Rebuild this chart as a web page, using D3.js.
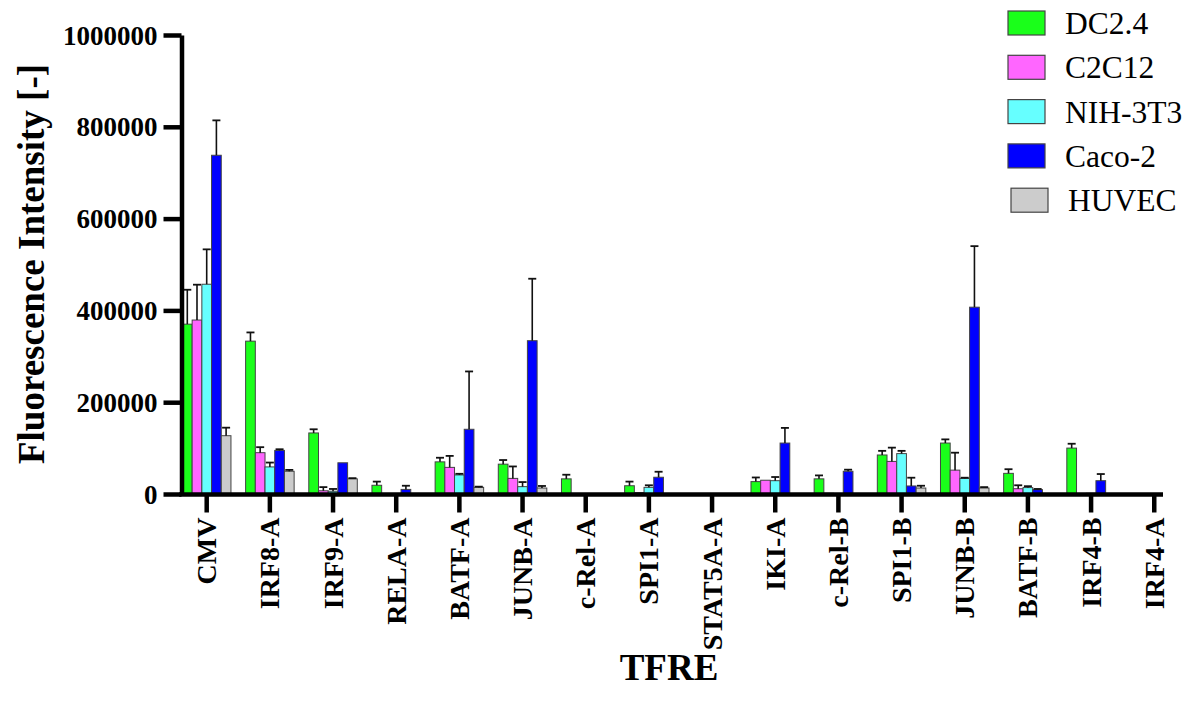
<!DOCTYPE html>
<html>
<head>
<meta charset="utf-8">
<script src="https://cdn.jsdelivr.net/npm/d3@7"></script>
<style>
  html, body { margin: 0; padding: 0; background: #fff; }
  svg { display: block; }
</style>
</head>
<body>
<svg id="chart" width="1197" height="706"></svg>
<script>
const categories = ["CMV","IRF8-A","IRF9-A","RELA-A","BATF-A","JUNB-A","c-Rel-A","SPI1-A","STAT5A-A","IKI-A","c-Rel-B","SPI1-B","JUNB-B","BATF-B","IRF4-B","IRF4-A"];
const seriesNames = ["DC2.4","C2C12","NIH-3T3","Caco-2","HUVEC"];
const seriesColors = ["#1aff1a","#ff66ff","#66ffff","#0000ff","#cccccc"];

const dc24     = [370000, 333000, 133000, 19000, 70000, 65000, 33000, 18000, 0, 27000, 33000, 85000, 111000, 45000, 100000, 0];
const dc24Err  = [75000, 19000, 8000, 8000, 9000, 9000, 9000, 9000, 0, 9000, 7500, 9000, 8000, 9000, 9500, 0];
const c2c12    = [379000, 90000, 7000, 1000, 58000, 34000, 0, 3000, 0, 30000, 1500, 71000, 52000, 11500, 0, 0];
const c2c12Err = [77000, 12000, 8000, 0, 25000, 26000, 0, 0, 0, 0, 0, 30000, 38000, 7500, 0, 0];
const nih3t3   = [457000, 59000, 6000, 0, 41500, 16000, 0, 14500, 1000, 29000, 0, 88000, 34000, 14000, 1500, 0];
const nih3t3Err= [76000, 9500, 5000, 0, 2500, 10000, 0, 4500, 0, 8000, 0, 6000, 1500, 3000, 0, 0];
const caco2    = [738000, 95000, 68000, 10000, 141000, 334000, 0, 36500, 0, 111000, 49500, 17500, 407000, 9500, 29000, 0];
const caco2Err = [76000, 2500, 0, 8000, 126000, 135000, 0, 12000, 0, 33000, 3500, 18000, 133000, 1500, 14500, 0];
const huvec    = [127000, 49500, 33000, 0, 14500, 13000, 0, 0, 0, 0, 0, 13000, 13000, 1000, 0, 0];
const huvecErr = [17500, 3000, 1500, 0, 1500, 4500, 0, 0, 0, 0, 0, 5000, 2000, 0, 0, 0];

const yTicks = [0, 200000, 400000, 600000, 800000, 1000000];

const means = [dc24, c2c12, nih3t3, caco2, huvec];
const errs = [dc24Err, c2c12Err, nih3t3Err, caco2Err, huvecErr];
const FONT = "Liberation Serif";

const rows = [];
categories.forEach((c, ci) => {
  seriesNames.forEach((s, si) => {
    rows.push({cat: c, series: s, si: si, v: means[si][ci], e: errs[si][ci]});
  });
});

const svg = d3.select("#chart");
const y = d3.scaleLinear().domain([0, 1000000]).range([494, 35]);
const step = 63.17;
const x0 = 206.7 - step / 2;
const x = d3.scaleBand().domain(categories).range([x0, x0 + step * categories.length])
  .paddingInner(0.232).paddingOuter(0.116);
const xs = d3.scaleBand().domain(seriesNames).range([0, x.bandwidth()]).padding(0);
const color = d3.scaleOrdinal().domain(seriesNames).range(seriesColors);

// bars
const g = svg.append("g");
g.selectAll("rect.bar").data(rows.filter(d => d.v > 0)).join("rect")
  .attr("class", "bar")
  .attr("x", d => x(d.cat) + xs(d.series))
  .attr("width", xs.bandwidth())
  .attr("y", d => y(d.v))
  .attr("height", d => y(0) - y(d.v))
  .attr("fill", d => color(d.series))
  .attr("stroke", "#444")
  .attr("stroke-width", 1);

// error bars
const eb = rows.filter(d => d.e > 0);
g.selectAll("line.err").data(eb).join("line")
  .attr("class", "err")
  .attr("x1", d => x(d.cat) + xs(d.series) + xs.bandwidth() / 2)
  .attr("x2", d => x(d.cat) + xs(d.series) + xs.bandwidth() / 2)
  .attr("y1", d => y(d.v))
  .attr("y2", d => y(d.v + d.e))
  .attr("stroke", "#111").attr("stroke-width", 1.6);
g.selectAll("line.cap").data(eb).join("line")
  .attr("class", "cap")
  .attr("x1", d => x(d.cat) + xs(d.series) + xs.bandwidth() / 2 - 4)
  .attr("x2", d => x(d.cat) + xs(d.series) + xs.bandwidth() / 2 + 4)
  .attr("y1", d => y(d.v + d.e))
  .attr("y2", d => y(d.v + d.e))
  .attr("stroke", "#111").attr("stroke-width", 1.8);

// y axis
const yAxis = svg.append("g").attr("transform", "translate(181.5,0)")
  .call(d3.axisLeft(y).tickValues(yTicks).tickSize(18).tickSizeOuter(0).tickPadding(6).tickFormat(d3.format("d")));
yAxis.attr("font-family", FONT);
yAxis.select(".domain").attr("stroke", "#000").attr("stroke-width", 4.5);
yAxis.selectAll(".tick line").attr("stroke", "#000").attr("stroke-width", 4.5);
yAxis.selectAll(".tick text")
  .style("font-family", FONT).style("font-size", "27px").style("font-weight", "bold")
  .attr("fill", "#000").attr("dy", "0.34em");

// x axis
const xAxis = svg.append("g").attr("transform", "translate(0,494.5)")
  .call(d3.axisBottom(x).tickSize(18).tickSizeOuter(0).tickPadding(4));
xAxis.attr("font-family", FONT);
xAxis.select(".domain").remove();
xAxis.selectAll(".tick line").attr("stroke", "#000").attr("stroke-width", 4.5);
xAxis.selectAll(".tick text")
  .style("font-family", FONT).style("font-size", "28px").style("font-weight", "bold")
  .attr("fill", "#000")
  .attr("text-anchor", "end")
  .attr("transform", "rotate(-90)")
  .attr("x", -23).attr("y", 0).attr("dy", "0.34em");
svg.append("line").attr("x1", 179.2).attr("x2", 1163).attr("y1", 494.5).attr("y2", 494.5)
  .attr("stroke", "#000").attr("stroke-width", 4.5);

// axis titles
svg.append("text").attr("transform", "translate(44,264) rotate(-90)")
  .attr("text-anchor", "middle")
  .style("font-family", FONT).style("font-size", "37px").style("font-weight", "bold")
  .text("Fluorescence Intensity [-]");
svg.append("text").attr("x", 669).attr("y", 680)
  .attr("text-anchor", "middle")
  .style("font-family", FONT).style("font-size", "37px").style("font-weight", "bold")
  .text("TFRE");

// legend
const leg = svg.append("g");
seriesNames.forEach((s, i) => {
  const cy = 23 + i * 44.3;
  const off = i === 4 ? 3 : 0;
  leg.append("rect").attr("x", 1008 + off).attr("y", cy - 12).attr("width", 37).attr("height", 24)
    .attr("fill", seriesColors[i]).attr("stroke", "#444").attr("stroke-width", 1.2);
  leg.append("text").attr("x", 1065 + off).attr("y", cy).attr("dy", "0.35em")
    .style("font-family", FONT).style("font-size", "31.5px").attr("fill", "#000").text(s);
});
</script>
</body>
</html>
